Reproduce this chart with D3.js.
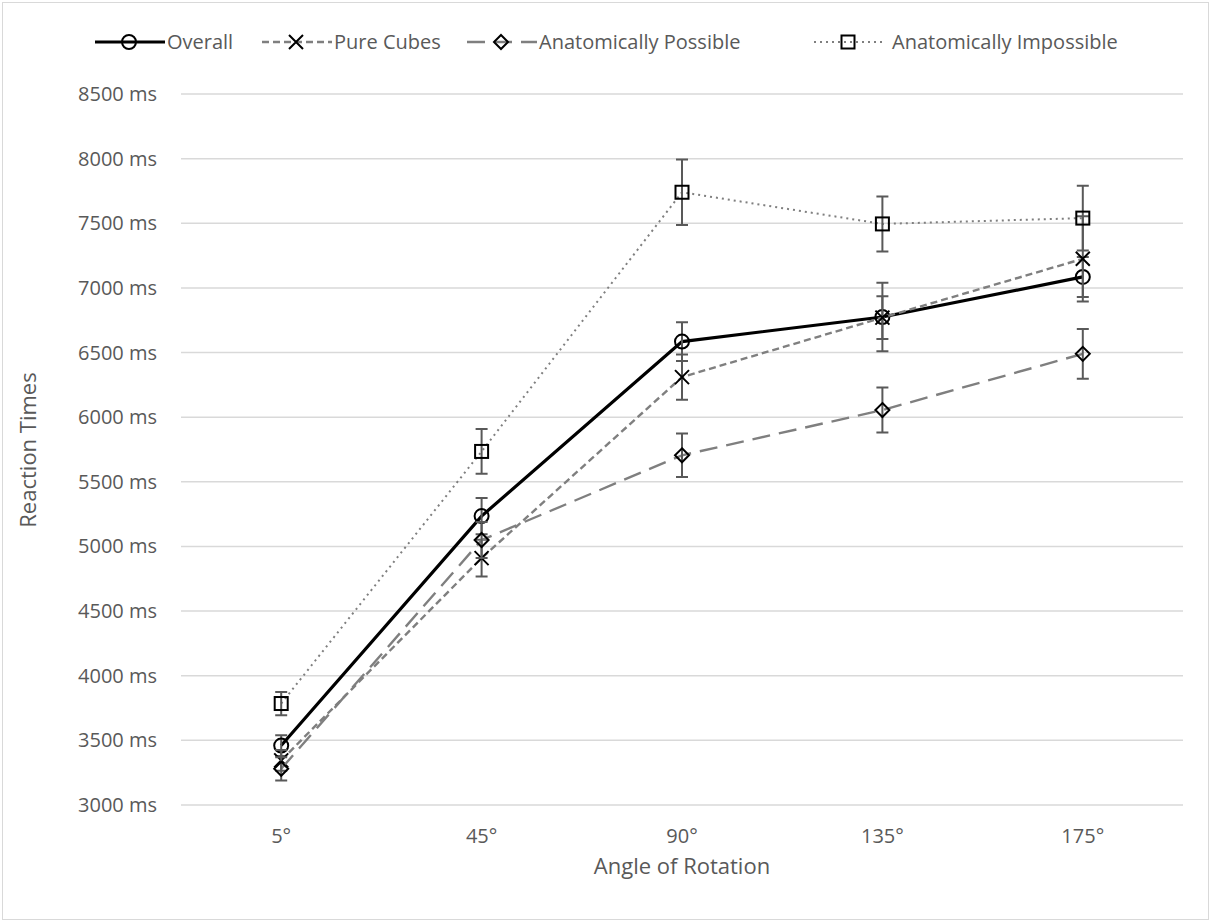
<!DOCTYPE html>
<html>
<head>
<meta charset="utf-8">
<script src="https://d3js.org/d3.v7.min.js"></script>
<style>
  body { margin: 0; background: #fff; }
  text { font-family: "Open Sans", sans-serif; fill: #595959; }
</style>
</head>
<body>
<svg width="1212" height="923"></svg>
<script>
// data
var angles = ["5°", "45°", "90°", "135°", "175°"];
var overall    = [3460, 5235, 6585, 6775, 7085];
var pureCubes  = [3345, 4910, 6310, 6770, 7225];
var possible   = [3280, 5050, 5705, 6055, 6490];
var impossible = [3785, 5735, 7740, 7495, 7540];
var overallErr    = [80, 140, 150, 265, 155];
var pureCubesErr  = [80, 142, 175, 165, 330];
var possibleErr   = [90, 140, 168, 174, 193];
var impossibleErr = [90, 173, 254, 213, 250];
var yTicks = [3000, 3500, 4000, 4500, 5000, 5500, 6000, 6500, 7000, 7500, 8000, 8500];

var series = [
  {name: "Overall", values: overall, err: overallErr, color: "#000", width: 3.2, dash: null, marker: "circle"},
  {name: "Pure Cubes", values: pureCubes, err: pureCubesErr, color: "#7f7f7f", width: 2.4, dash: "7,4", marker: "cross"},
  {name: "Anatomically Possible", values: possible, err: possibleErr, color: "#7f7f7f", width: 2.4, dash: "18,9", marker: "diamond"},
  {name: "Anatomically Impossible", values: impossible, err: impossibleErr, color: "#7f7f7f", width: 2, dash: "2,4", marker: "square"}
];

var svg = d3.select("svg");

// outer chart border
svg.append("rect")
    .attr("x", 2.5).attr("y", 2.5)
    .attr("width", 1206).attr("height", 917)
    .attr("fill", "#fff").attr("stroke", "#d9d9d9");

var plotL = 181, plotR = 1183, plotT = 94, plotB = 805;

var x = d3.scaleBand().domain(angles).range([plotL, plotR]);
var y = d3.scaleLinear().domain([3000, 8500]).range([plotB, plotT]);
var cx = function(i) { return x(angles[i]) + x.bandwidth() / 2; };

// gridlines
svg.append("g")
    .selectAll("line")
    .data(yTicks)
    .enter().append("line")
    .attr("x1", plotL).attr("x2", plotR)
    .attr("y1", function(d) { return y(d); })
    .attr("y2", function(d) { return y(d); })
    .attr("stroke", "#d9d9d9")
    .attr("stroke-width", 1.5);

// y tick labels
svg.append("g")
    .selectAll("text")
    .data(yTicks)
    .enter().append("text")
    .attr("x", 157)
    .attr("y", function(d) { return y(d); })
    .attr("dy", "0.35em")
    .attr("text-anchor", "end")
    .style("font-size", "20px")
    .text(function(d) { return d + " ms"; });

// x tick labels
svg.append("g")
    .selectAll("text")
    .data(angles)
    .enter().append("text")
    .attr("x", function(d) { return x(d) + x.bandwidth() / 2; })
    .attr("y", 836)
    .attr("dy", "0.35em")
    .attr("text-anchor", "middle")
    .style("font-size", "20px")
    .text(function(d) { return d; });

// axis titles
svg.append("text")
    .attr("x", 682).attr("y", 866)
    .attr("dy", "0.35em")
    .attr("text-anchor", "middle")
    .style("font-size", "22px")
    .text("Angle of Rotation");

svg.append("text")
    .attr("transform", "translate(36,450) rotate(-90)")
    .attr("text-anchor", "middle")
    .style("font-size", "22px")
    .text("Reaction Times");

function drawMarker(g, type, px, py) {
  var s = 7;
  if (type == "circle") {
    g.append("circle").attr("cx", px).attr("cy", py).attr("r", s)
        .attr("fill", "none").attr("stroke", "#000").attr("stroke-width", 2);
  } else if (type == "cross") {
    g.append("path")
        .attr("d", "M" + (px - s) + "," + (py - s) + "L" + (px + s) + "," + (py + s) +
                   "M" + (px - s) + "," + (py + s) + "L" + (px + s) + "," + (py - s))
        .attr("stroke", "#000").attr("stroke-width", 2);
  } else if (type == "diamond") {
    g.append("path")
        .attr("d", "M" + px + "," + (py - s) + "L" + (px + s) + "," + py +
                   "L" + px + "," + (py + s) + "L" + (px - s) + "," + py + "Z")
        .attr("fill", "none").attr("stroke", "#000").attr("stroke-width", 2);
  } else {
    g.append("rect").attr("x", px - 6.5).attr("y", py - 6.5)
        .attr("width", 13).attr("height", 13)
        .attr("fill", "none").attr("stroke", "#000").attr("stroke-width", 2);
  }
}

var line = d3.line()
    .x(function(d, i) { return cx(i); })
    .y(function(d) { return y(d); });

series.forEach(function(s) {
  var g = svg.append("g");
  g.append("path")
      .attr("d", line(s.values))
      .attr("fill", "none")
      .attr("stroke", s.color)
      .attr("stroke-width", s.width)
      .attr("stroke-dasharray", s.dash);

  // error bars
  s.values.forEach(function(v, i) {
    var px = cx(i), lo = y(v - s.err[i]), hi = y(v + s.err[i]);
    g.append("path")
        .attr("d", "M" + px + "," + lo + "L" + px + "," + hi +
                   "M" + (px - 6) + "," + lo + "L" + (px + 6) + "," + lo +
                   "M" + (px - 6) + "," + hi + "L" + (px + 6) + "," + hi)
        .attr("stroke", "#595959").attr("stroke-width", 2).attr("fill", "none");
  });

  s.values.forEach(function(v, i) {
    drawMarker(g, s.marker, cx(i), y(v));
  });
});

// legend
var legendX = [95, 262, 467, 814];
var legend = svg.append("g");
series.forEach(function(s, i) {
  var x0 = legendX[i], ly = 42;
  legend.append("line")
      .attr("x1", x0).attr("x2", x0 + 70)
      .attr("y1", ly).attr("y2", ly)
      .attr("stroke", s.color)
      .attr("stroke-width", s.width)
      .attr("stroke-dasharray", s.dash);
  drawMarker(legend, s.marker, x0 + 34, ly);
  legend.append("text")
      .attr("x", x0 + (i == 3 ? 78 : 72))
      .attr("y", ly)
      .attr("dy", "0.35em")
      .style("font-size", "20px")
      .text(s.name);
});
</script>
</body>
</html>
